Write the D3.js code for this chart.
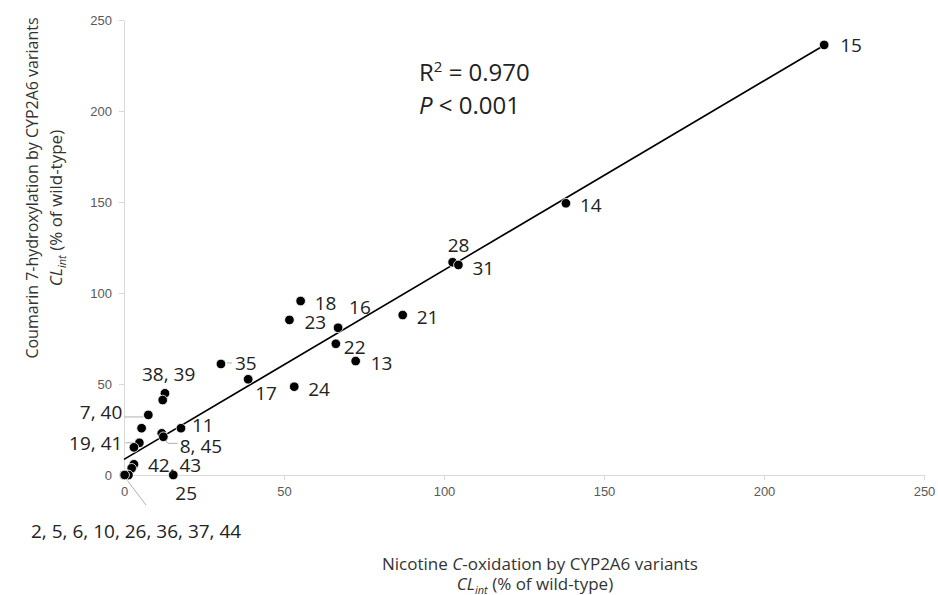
<!DOCTYPE html>
<meta charset="utf-8">
<style>
    body {
        margin: 0;
        background: #fff;
    }
    svg {
        font-family: "Open Sans", sans-serif;
    }
    .axis path,
    .axis line {
        fill: none;
        stroke: #d9d9d9;
        shape-rendering: crispEdges;
    }
    .axis text {
        font-size: 13px;
        fill: #595959;
    }
    .pt {
        fill: #000;
        stroke: #fff;
        stroke-width: 0.8;
    }
    .lbl {
        font-size: 19px;
        fill: #222;
    }
    .leader {
        stroke: #b0b0b0;
        stroke-width: 1;
        fill: none;
    }
    .title {
        font-size: 17px;
        fill: #333;
    }
</style>
<body>
<script src="https://cdn.jsdelivr.net/npm/d3@7"></script>
<script>
    // variant ids and their clearance values (% of wild-type)
    const variantIds = ["15", "14", "28", "31", "21", "18", "23", "16", "22", "13", "35", "17", "24",
        "38", "39", "7", "40", "11", "8", "45", "19", "41", "42", "43", "25",
        "2", "5", "6", "10", "26", "36", "37", "44"];
    const nicotineCL = [218.8, 138.1, 102.7, 104.5, 87.1, 55.2, 51.7, 66.9, 66.2, 72.4, 30.3, 38.8, 53.2,
        12.8, 12.1, 7.6, 5.5, 17.8, 11.8, 12.3, 4.8, 3.1, 3.1, 2.4, 15.4,
        0, 0.3, 0.5, 0.8, 1.0, 1.2, 1.4, 0.2];
    const coumarinCL = [236.3, 149.3, 116.9, 115.4, 87.9, 95.6, 85.2, 80.9, 72.1, 62.6, 61.0, 52.6, 48.5,
        44.9, 41.2, 33.0, 25.7, 25.7, 22.9, 21.0, 17.7, 15.2, 5.9, 3.7, 0,
        0, 0, 0, 0, 0, 0, 0, 0];

    // point labels: text and the variant they sit next to
    const labelTexts = ["15", "14", "28", "31", "21", "18", "23", "16", "22", "13", "35", "17", "24",
        "38, 39", "7, 40", "11", "8, 45", "19, 41", "42, 43", "25", "2, 5, 6, 10, 26, 36, 37, 44"];
    const labelFor = ["15", "14", "28", "31", "21", "18", "23", "16", "22", "13", "35", "17", "24",
        "38", "7", "11", "8", "19", "42", "25", "2"];

    const axisTicks = [0, 50, 100, 150, 200, 250];

    // regression fit
    const fitIntercept = 8.6;
    const fitSlope = 1.04;
    const fitRange = [0, 218.8];

    // layout: label offsets in px from the point (dx, dy, anchor)
    const labelOffsets = {
        "15": [16, 0], "14": [14, 2], "28": [-5, -17], "31": [14, 3], "21": [14, 2],
        "18": [14, 2], "23": [15, 2], "16": [11, -20], "22": [8, 4], "13": [15, 2],
        "35": [14, -1], "17": [7, 14], "24": [14, 3], "38, 39": [-23, -19],
        "7, 40": [-26, -3, "end"], "11": [11, -3], "8, 45": [18, 13],
        "19, 41": [-17, 1, "end"], "42, 43": [14, 1], "25": [2, 18],
        "2, 5, 6, 10, 26, 36, 37, 44": [-93, 56]
    };

    const width = 938, height = 595;

    const svg = d3.select("body").append("svg")
        .attr("width", width)
        .attr("height", height);

    const x = d3.scaleLinear().domain([0, 250]).range([124, 924]);
    const y = d3.scaleLinear().domain([0, 250]).range([475, 20]);

    // axes
    svg.append("g")
        .attr("class", "x axis")
        .attr("transform", "translate(0," + y(0) + ")")
        .call(d3.axisBottom(x).tickValues(axisTicks).tickSize(5).tickSizeOuter(0).tickPadding(7));

    svg.append("g")
        .attr("class", "y axis")
        .attr("transform", "translate(" + x(0) + ",0)")
        .call(d3.axisLeft(y).tickValues(axisTicks).tickSize(5).tickSizeOuter(0).tickPadding(7));

    const pts = variantIds.map((id, i) => ({id: id, x: nicotineCL[i], y: coumarinCL[i]}));
    const byId = {};
    pts.forEach(d => { byId[d.id] = d; });

    // leader lines (gray)
    const leaders = [
        ["35", [[x(30.3) + 6, y(61) - 1], [x(30.3) + 11, y(61) - 1]]],
        ["7", [[x(7.6) - 5, y(33) + 2], [x(7.6) - 24, y(33) + 2]]],
        ["19", [[x(4.8) - 14, y(17.7)], [x(4.8) - 4, y(17.7)]]],
        ["8", [[x(11.8) + 2, y(22.9) + 5], [x(11.8) + 6, y(22.9) + 10], [x(11.8) + 16, y(22.9) + 10]]],
        ["2", [[x(0) + 3, y(0) + 5], [x(0) + 22, y(0) + 30]]]
    ];
    svg.append("g").selectAll("path")
        .data(leaders)
        .enter().append("path")
        .attr("class", "leader")
        .attr("d", d => d3.line()(d[1]));

    // regression line
    svg.append("line")
        .attr("x1", x(fitRange[0]))
        .attr("y1", y(fitIntercept + fitSlope * fitRange[0]))
        .attr("x2", x(fitRange[1]))
        .attr("y2", y(fitIntercept + fitSlope * fitRange[1]))
        .style("stroke", "#000")
        .style("stroke-width", 1.6);

    // dots
    svg.append("g").selectAll("circle")
        .data(pts)
        .enter().append("circle")
        .attr("class", "pt")
        .attr("r", 4.8)
        .attr("cx", d => x(d.x))
        .attr("cy", d => y(d.y));

    // point labels
    svg.append("g").selectAll("text")
        .data(labelTexts)
        .enter().append("text")
        .attr("class", "lbl")
        .attr("x", (d, i) => x(byId[labelFor[i]].x) + labelOffsets[d][0])
        .attr("y", (d, i) => y(byId[labelFor[i]].y) + labelOffsets[d][1])
        .attr("dy", "0.35em")
        .style("text-anchor", d => labelOffsets[d][2] || "start")
        .text(d => d);

    // R2 / P annotation
    const stat = svg.append("text")
        .attr("x", 419)
        .attr("y", 81)
        .style("font-size", "24px")
        .style("fill", "#222");
    stat.append("tspan").text("R");
    stat.append("tspan").attr("dy", -9).style("font-size", "15px").text("2");
    stat.append("tspan").attr("dy", 9).text(" = 0.970");

    const pval = svg.append("text")
        .attr("x", 419)
        .attr("y", 114)
        .style("font-size", "24px")
        .style("fill", "#222");
    pval.append("tspan").style("font-style", "italic").text("P");
    pval.append("tspan").text(" < 0.001");

    // x title
    const xt1 = svg.append("text")
        .attr("class", "title")
        .attr("x", 540)
        .attr("y", 570)
        .style("text-anchor", "middle");
    xt1.append("tspan").text("Nicotine ");
    xt1.append("tspan").style("font-style", "italic").text("C");
    xt1.append("tspan").text("-oxidation by CYP2A6 variants");

    function clint(sel) {
        sel.append("tspan").style("font-style", "italic").text("CL");
        sel.append("tspan").style("font-style", "italic").style("font-size", "11px")
            .attr("dy", 4).text("int");
        sel.append("tspan").attr("dy", -4).text(" (% of wild-type)");
    }

    const xt2 = svg.append("text")
        .attr("class", "title")
        .attr("x", 535)
        .attr("y", 590)
        .style("text-anchor", "middle");
    clint(xt2);

    // y title
    svg.append("text")
        .attr("class", "title")
        .attr("transform", "translate(38,188) rotate(-90)")
        .style("text-anchor", "middle")
        .style("font-size", "16px")
        .text("Coumarin 7-hydroxylation by CYP2A6 variants");

    const yt2 = svg.append("text")
        .attr("class", "title")
        .attr("transform", "translate(62,208) rotate(-90)")
        .style("text-anchor", "middle");
    clint(yt2);
</script>
</body>
</html>
